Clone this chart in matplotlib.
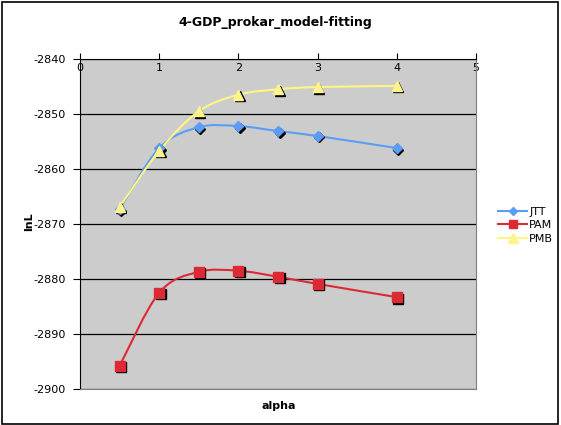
import numpy as np
import matplotlib
matplotlib.use('Agg')
import matplotlib.pyplot as plt
from matplotlib.path import Path
from matplotlib.patches import PathPatch, Rectangle
from matplotlib.transforms import offset_copy
from matplotlib.lines import Line2D

alpha = [0.5, 1, 1.5, 2, 2.5, 3, 4]
jtt = [-2867.3, -2856.2, -2852.4, -2852.2, -2853.1, -2854.0, -2856.2]
pam = [-2895.8, -2882.5, -2878.7, -2878.5, -2879.6, -2880.9, -2883.3]
pmb = [-2866.9, -2856.7, -2849.5, -2846.5, -2845.5, -2845.1, -2844.9]

series = [
    ('JTT', jtt, '#5C9CF5', '#5C9CF5', 'D', 5.5),
    ('PAM', pam, '#DC2A35', '#DC2A35', 's', 6.5),
    ('PMB', pmb, '#FFF582', '#FFF48C', '^', 7.5),
]


def smooth_path(x, y):
    # Excel-style smoothed line: cubic bezier with catmull-rom control points
    pts = np.column_stack([x, y]).astype(float)
    n = len(pts)
    verts = [pts[0]]
    codes = [Path.MOVETO]
    for i in range(n - 1):
        p0 = pts[max(i - 1, 0)]
        p1 = pts[i]
        p2 = pts[i + 1]
        p3 = pts[min(i + 2, n - 1)]
        verts += [p1 + (p2 - p0) / 6, p2 - (p3 - p1) / 6, p2]
        codes += [Path.CURVE4] * 3
    return Path(verts, codes)


fig = plt.figure(figsize=(5.61, 4.25), dpi=100)
fig.patches.append(Rectangle((0.003, 0.003), 0.992, 0.992, transform=fig.transFigure,
                             fill=False, edgecolor='black', linewidth=1.2))
ax = fig.add_axes([0.1426, 0.0847, 0.7059, 0.7765])
ax.set_facecolor('#CCCCCC')
ax.set_xlim(0, 5)
ax.set_ylim(-2900, -2840)

ax.set_yticks(np.arange(-2900, -2839, 10))
ax.set_yticklabels(['%d' % v for v in np.arange(-2900, -2839, 10)])
ax.set_xticks(range(6))
ax.xaxis.tick_top()
ax.tick_params(axis='x', direction='out', length=4, pad=-14, labelsize=8, color='black')
ax.tick_params(axis='y', direction='out', length=5, pad=5, labelsize=8, color='black')
ax.yaxis.grid(True, color='black', linewidth=0.9)
ax.set_axisbelow(True)
for s in ['right', 'bottom']:
    ax.spines[s].set_color('#808080')
for s in ['left', 'top']:
    ax.spines[s].set_color('black')

shadow = offset_copy(ax.transData, fig=fig, x=1.5, y=-1.5, units='dots')
handles = []
for name, vals, lc, fc, mk, ms in series:
    ax.add_patch(PathPatch(smooth_path(alpha, vals), facecolor='none',
                           edgecolor=lc, linewidth=1.5, zorder=3))
    ax.plot(alpha, vals, linestyle='none', marker=mk, markersize=ms,
            color='black', transform=shadow, zorder=4)
    ax.plot(alpha, vals, linestyle='none', marker=mk, markersize=ms,
            markerfacecolor=fc, markeredgecolor=fc, zorder=5)
    handles.append(Line2D([], [], color=lc, linewidth=1.5, marker=mk,
                          markersize=ms - 1, markerfacecolor=fc, markeredgecolor=fc,
                          label=name))

fig.legend(handles=handles, loc='center left', bbox_to_anchor=(0.87, 0.47),
           frameon=False, fontsize=8, handlelength=2.6, handletextpad=0.2,
           labelspacing=0.3)

fig.text(0.49, 0.948, '4-GDP_prokar_model-fitting', ha='center', va='center',
         fontsize=9, fontweight='bold')
fig.text(0.052, 0.478, 'lnL', ha='center', va='center', rotation=90,
         fontsize=8, fontweight='bold')
fig.text(0.496, 0.045, 'alpha', ha='center', va='center',
         fontsize=8, fontweight='bold')

fig.savefig('out.png', dpi=100)
